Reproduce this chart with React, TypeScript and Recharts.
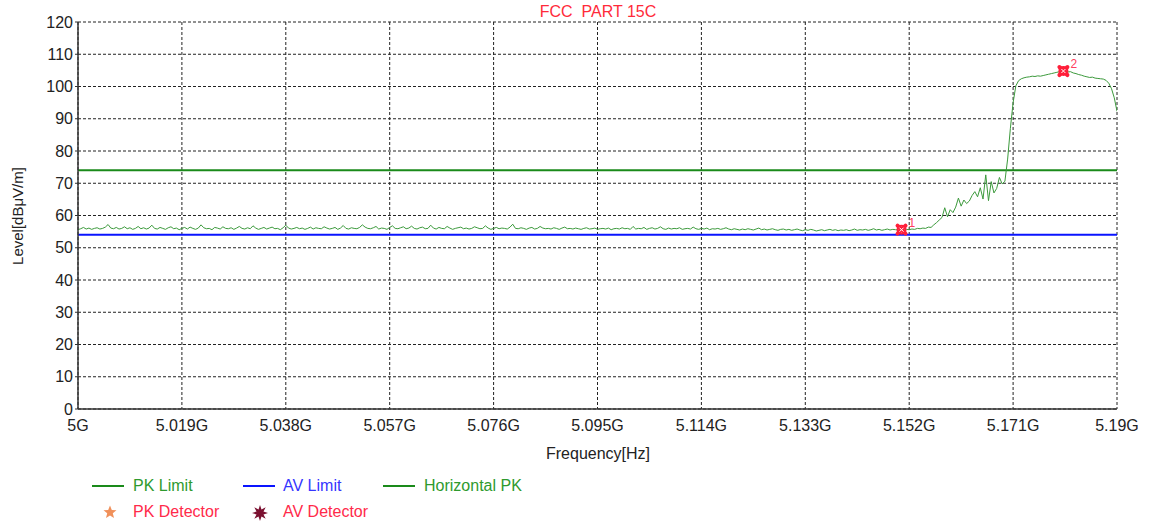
import React from 'react';
import {
  ComposedChart,
  Line,
  XAxis,
  YAxis,
  CartesianGrid,
  ReferenceLine,
  Scatter,
} from 'recharts';

// Sweep start and step (GHz)
const START_GHZ = 5.0;
const STEP_GHZ = 0.0005;

// Horizontal PK trace (dBµV/m), one value per 0.5 MHz
const horizontalPk = [
  55.6, 55.9, 56.3, 55.8, 56.1, 55.7, 56.0, 56.2, 55.8, 56.0, 56.4, 57.2, 56.1, 55.9, 56.3, 55.8, 56.0, 56.5, 55.9, 56.2,
  55.7, 56.0, 56.6, 55.9, 56.2, 55.8, 56.1, 57.0, 56.0, 55.8, 56.3, 56.0, 55.7, 56.2, 56.5, 55.9, 56.1, 55.6, 56.0, 56.3,
  55.8, 56.4, 56.0, 55.7, 56.1, 57.1, 56.2, 55.9, 56.0, 55.6, 56.3, 56.1, 55.8, 56.5, 56.0, 55.9, 56.2, 55.7, 56.1, 56.6,
  56.0, 55.8, 56.2, 55.9, 56.8, 56.1, 55.7, 56.0, 56.3, 55.8, 56.1, 56.4, 55.9, 56.0, 55.6, 56.2, 57.0, 56.1, 55.8, 56.0,
  56.3, 55.9, 56.1, 55.7, 56.0, 56.4, 55.8, 56.2, 56.0, 55.9, 56.5, 56.1, 55.8, 56.0, 56.3, 55.7, 56.1, 56.9, 56.0, 55.8,
  56.2, 56.0, 55.9, 56.3, 57.1, 56.4, 56.0, 55.9, 56.2, 56.6, 55.8, 56.1, 56.0, 55.7, 56.3, 56.8, 56.0, 55.9, 56.2, 56.5,
  55.9, 56.1, 56.7, 56.0, 55.8, 56.2, 56.4, 55.9, 56.0, 57.0, 56.1, 55.8, 56.3, 56.0, 55.9, 56.6, 56.1, 55.7, 56.0, 56.2,
  56.4, 55.9, 56.1, 55.8, 56.0, 56.5, 56.2, 55.9, 56.0, 56.8, 56.1, 55.7, 56.0, 56.3, 55.9, 56.1, 56.0, 55.8, 56.4, 57.3,
  56.0, 55.9, 56.2, 56.0, 55.7, 56.1, 56.3, 55.8, 56.0, 56.6, 56.1, 55.9, 56.0, 55.8, 56.2, 56.0, 55.7, 56.1, 56.4, 55.9,
  56.0, 55.8, 56.1, 55.9, 55.7, 56.0, 56.2, 55.8, 55.9, 56.1, 55.7, 55.9, 56.0, 55.8, 56.1, 55.6, 55.9, 56.0, 55.8, 56.2,
  55.9, 56.0, 55.7, 56.6, 55.8, 56.0, 55.9, 56.3, 55.7, 56.0, 56.2, 55.8, 56.0, 56.5, 55.9, 55.7, 56.1, 55.8, 56.0, 55.9,
  56.2, 55.7, 55.9, 56.0, 55.8, 56.4, 55.9, 55.7, 56.0, 55.8, 56.1, 55.6, 55.9, 55.8, 56.0, 55.7, 55.9, 56.2, 55.8, 55.6,
  55.9, 55.7, 55.5, 55.8, 55.6, 55.9, 55.7, 55.5, 55.8, 56.1, 55.6, 55.8, 55.5, 55.7, 55.9, 55.6, 55.4, 55.7, 55.8, 55.5,
  55.7, 55.4, 55.6, 55.8, 55.5, 55.3, 55.6, 55.4, 55.7, 55.5, 55.2, 55.4, 55.6, 55.3, 55.5, 55.7, 55.4, 55.6, 55.3, 55.5,
  55.4, 55.6, 55.3, 55.5, 55.8, 55.4, 55.6, 55.5, 55.7, 55.4, 55.6, 55.9, 55.5, 55.7, 55.4, 55.6, 55.8, 55.5, 55.7, 55.6,
  55.5, 55.6, 55.4, 55.7, 55.6, 55.8, 55.7, 56.0, 55.9, 56.1, 56.0, 56.4, 56.3, 57.1, 57.8, 58.6, 59.4, 62.4, 59.6, 61.8,
  60.9, 62.6, 65.4, 62.9, 64.8, 63.7, 64.5, 66.2, 67.4, 65.8, 68.6, 65.1, 72.6, 64.6, 70.5, 67.0, 68.4, 71.8, 69.8, 70.6,
  77.5, 87.0, 95.0, 100.2, 101.8, 102.4, 102.7, 102.9, 103.0, 103.2, 103.1, 103.3, 103.2, 103.4, 103.6, 103.8, 104.0, 104.2, 104.4, 104.6,
  104.8, 104.7, 104.5, 104.6, 104.2, 104.0, 103.7, 103.5, 103.2, 103.0, 102.8, 102.9, 102.6, 102.5, 102.4, 102.3, 101.9, 101.0, 99.3, 96.5,
  92.3,
];

// Limits (dBµV/m)
const pkLimit = 74;
const avLimit = 54;

// Marker points
const markerFreqs = [5.1506, 5.1802];
const markerLevels = [55.6, 104.8];
const markerLabels = ['1', '2'];

// Tick labels
const xTicks = [5, 5.019, 5.038, 5.057, 5.076, 5.095, 5.114, 5.133, 5.152, 5.171, 5.19];
const yTicks = [0, 10, 20, 30, 40, 50, 60, 70, 80, 90, 100, 110, 120];

const traceData = horizontalPk.map((v, i) => ({
  f: Number((START_GHZ + i * STEP_GHZ).toFixed(4)),
  level: v,
}));
const markerData = markerFreqs.map((f, i) => ({ f, level: markerLevels[i], label: markerLabels[i] }));

const FONT = '"Liberation Sans", Arial, sans-serif';

const fmtX = (v: number) => `${parseFloat(v.toFixed(3))}G`;

const MarkerShape = (props: any) => {
  const { cx, cy, payload } = props;
  if (cx == null || cy == null) return null;
  const red = '#ff1f3a';
  return (
    <g>
      <line x1={cx - 4} y1={cy - 4} x2={cx + 4} y2={cy + 4} stroke={red} strokeWidth={4} strokeLinecap="round" />
      <line x1={cx - 4} y1={cy + 4} x2={cx + 4} y2={cy - 4} stroke={red} strokeWidth={4} strokeLinecap="round" />
      <circle cx={cx} cy={cy} r={4} fill="none" stroke={red} strokeWidth={2} />
      <line x1={cx - 2} y1={cy - 2} x2={cx + 2} y2={cy + 2} stroke="#fff" strokeWidth={1} />
      <line x1={cx - 2} y1={cy + 2} x2={cx + 2} y2={cy - 2} stroke="#fff" strokeWidth={1} />
      <text x={cx + 7} y={cy - 3} fill="#ff4060" fontSize={12} fontFamily={FONT}>
        {payload.label}
      </text>
    </g>
  );
};

const LegendLine = ({ x, y, color }: { x: number; y: number; color: string }) => (
  <div style={{ position: 'absolute', left: x, top: y, width: 32, height: 0, borderTop: `2px solid ${color}` }} />
);

const LegendText = ({ x, y, color, children }: { x: number; y: number; color: string; children: React.ReactNode }) => (
  <div
    style={{
      position: 'absolute',
      left: x,
      top: y,
      color,
      fontSize: 16,
      fontFamily: FONT,
      lineHeight: '18px',
      whiteSpace: 'nowrap',
    }}
  >
    {children}
  </div>
);

export default function App() {
  return (
    <div style={{ position: 'absolute', left: 0, top: 0, width: 1149, height: 524, background: '#fff', fontFamily: FONT }}>
      <ComposedChart
        width={1149}
        height={524}
        margin={{ top: 22, right: 32, bottom: 85, left: 0 }}
        style={{ position: 'absolute', left: 0, top: 0 }}
      >
        <CartesianGrid stroke="#222" strokeDasharray="3 2" strokeWidth={1} />
        <XAxis
          dataKey="f"
          type="number"
          domain={[5, 5.19]}
          ticks={xTicks}
          tickFormatter={fmtX}
          allowDataOverflow
          height={30}
          tickLine={false}
          tickMargin={5}
          axisLine={{ stroke: '#333', strokeWidth: 1.5 }}
          tick={{ fill: '#222', fontSize: 16, fontFamily: FONT }}
        />
        <XAxis
          xAxisId="top"
          orientation="top"
          type="number"
          domain={[5, 5.19]}
          ticks={xTicks}
          height={0}
          tick={false}
          tickLine={false}
          axisLine={{ stroke: '#333', strokeWidth: 1.5 }}
        />
        <YAxis
          type="number"
          domain={[0, 120]}
          ticks={yTicks}
          width={78}
          tickSize={3}
          tickMargin={2}
          axisLine={{ stroke: '#333', strokeWidth: 1.5 }}
          tickLine={{ stroke: '#333' }}
          tick={{ fill: '#222', fontSize: 16, fontFamily: FONT }}
        />
        <YAxis
          yAxisId="right"
          orientation="right"
          type="number"
          domain={[0, 120]}
          width={0}
          tick={false}
          tickLine={false}
          axisLine={{ stroke: '#333', strokeWidth: 1.5 }}
        />
        <ReferenceLine y={pkLimit} stroke="#1a8a1a" strokeWidth={2} />
        <ReferenceLine y={avLimit} stroke="#0a14ff" strokeWidth={2} />
        <Line
          data={traceData}
          dataKey="level"
          type="linear"
          stroke="#3c9a3c"
          strokeWidth={1}
          dot={false}
          activeDot={false}
          isAnimationActive={false}
        />
        <Scatter data={markerData} dataKey="level" shape={<MarkerShape />} isAnimationActive={false} />
      </ComposedChart>

      {/* Title */}
      <div
        style={{
          position: 'absolute',
          left: 0,
          width: 1196,
          top: 3,
          textAlign: 'center',
          color: '#ff2a3a',
          fontSize: 16,
          fontFamily: FONT,
          whiteSpace: 'pre',
        }}
      >
        {'FCC  PART 15C'}
      </div>

      {/* Y axis label */}
      <div
        style={{
          position: 'absolute',
          left: 17,
          top: 216,
          transform: 'translate(-50%, -50%) rotate(-90deg)',
          color: '#222',
          fontSize: 15,
          fontFamily: FONT,
          whiteSpace: 'nowrap',
        }}
      >
        Level[dBμV/m]
      </div>

      {/* X axis label */}
      <div
        style={{
          position: 'absolute',
          left: 598,
          top: 454,
          transform: 'translate(-50%, -50%)',
          color: '#222',
          fontSize: 16,
          fontFamily: FONT,
          whiteSpace: 'nowrap',
        }}
      >
        Frequency[Hz]
      </div>

      {/* Legend */}
      <LegendLine x={92} y={485} color="#1a8a1a" />
      <LegendText x={133} y={477} color="#2e9a2e">PK Limit</LegendText>
      <LegendLine x={243} y={485} color="#0a14ff" />
      <LegendText x={283} y={477} color="#3535ff">AV Limit</LegendText>
      <LegendLine x={383} y={485} color="#1a8a1a" />
      <LegendText x={424} y={477} color="#2e9a2e">Horizontal PK</LegendText>

      <svg style={{ position: 'absolute', left: 102, top: 504 }} width={16} height={16}>
        <polygon
          points="8,1.5 9.8,6 14.5,6.3 10.8,9.3 12,14 8,11.4 4,14 5.2,9.3 1.5,6.3 6.2,6"
          fill="#f0905a"
        />
      </svg>
      <LegendText x={133} y={503} color="#ff2a4a">PK Detector</LegendText>
      <svg style={{ position: 'absolute', left: 251, top: 504 }} width={18} height={18}>
        <polygon
          points="9,1 10.5,5.5 14.7,3.3 12.5,7.5 17,9 12.5,10.5 14.7,14.7 10.5,12.5 9,17 7.5,12.5 3.3,14.7 5.5,10.5 1,9 5.5,7.5 3.3,3.3 7.5,5.5"
          fill="#7a1030"
        />
      </svg>
      <LegendText x={283} y={503} color="#ff2a4a">AV Detector</LegendText>
    </div>
  );
}
